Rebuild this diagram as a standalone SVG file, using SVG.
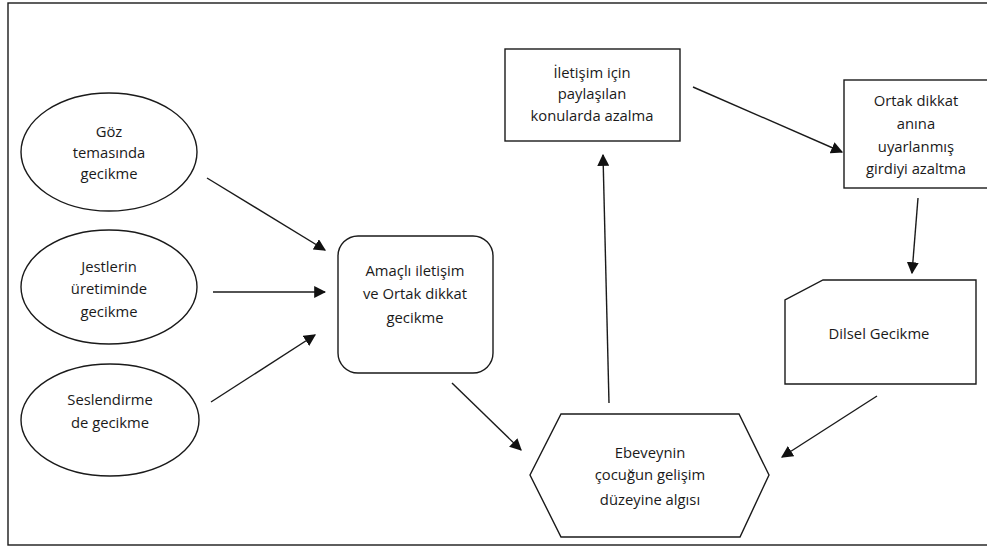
<svg xmlns="http://www.w3.org/2000/svg" width="987" height="547" viewBox="0 0 987 547">
<defs>
<style>
.s{fill:#fff;stroke:#1a1a1a;stroke-width:1.4}
.t{font-family:"Open Sans","Liberation Sans",sans-serif;font-size:14.8px;fill:#1a1a1a;text-anchor:middle;dominant-baseline:central}
.c{stroke:#1a1a1a;stroke-width:1.4;fill:none;marker-end:url(#ah)}
</style>
<marker id="ah" viewBox="0 0 10 10" refX="9" refY="5" markerWidth="12" markerHeight="12" markerUnits="userSpaceOnUse" orient="auto">
<path d="M0,0 L10,5 L0,10 z" fill="#111"/>
</marker>
</defs>
<rect x="0" y="0" width="987" height="547" fill="#fff"/>
<rect x="8" y="3" width="995" height="542" fill="none" stroke="#1a1a1a" stroke-width="1.4"/>

<g id="n-goz">
<ellipse class="s" cx="109" cy="152" rx="88" ry="59"/>
<text class="t" x="109" y="131">Göz</text>
<text class="t" x="109" y="152">temasında</text>
<text class="t" x="109" y="173">gecikme</text>
</g>
<g id="n-jest">
<ellipse class="s" cx="109" cy="287" rx="88" ry="57"/>
<text class="t" x="109" y="266">Jestlerin</text>
<text class="t" x="109" y="288">üretiminde</text>
<text class="t" x="109" y="311">gecikme</text>
</g>
<g id="n-ses">
<ellipse class="s" cx="110" cy="420" rx="89" ry="56"/>
<text class="t" x="110" y="399">Seslendirme</text>
<text class="t" x="110" y="422">de gecikme</text>
</g>
<g id="n-amacli">
<rect class="s" x="338" y="236" width="155" height="137" rx="20"/>
<text class="t" x="415" y="270">Amaçlı iletişim</text>
<text class="t" x="415" y="293">ve Ortak dikkat</text>
<text class="t" x="415" y="317">gecikme</text>
</g>
<g id="n-iletisim">
<rect class="s" x="505" y="49" width="175" height="92"/>
<text class="t" x="592" y="72">İletişim için</text>
<text class="t" x="592" y="93">paylaşılan</text>
<text class="t" x="592" y="115">konularda azalma</text>
</g>
<g id="n-ortak">
<rect class="s" x="844" y="80" width="150" height="108"/>
<text class="t" x="916" y="100">Ortak dikkat</text>
<text class="t" x="916" y="123">anına</text>
<text class="t" x="916" y="146">uyarlanmış</text>
<text class="t" x="916" y="168">girdiyi azaltma</text>
</g>
<g id="n-dilsel">
<path class="s" d="M823,280 L976,280 L976,384 L785,384 L785,300 Z"/>
<text class="t" x="879" y="333">Dilsel Gecikme</text>
</g>
<g id="n-ebeveyn">
<path class="s" d="M561,414 L739,414 L769,475 L740,537 L561,537 L530,475 Z"/>
<text class="t" x="650" y="452">Ebeveynin</text>
<text class="t" x="650" y="474">çocuğun gelişim</text>
<text class="t" x="650" y="499">düzeyine algısı</text>
</g>

<g id="connectors">
<line class="c" x1="207" y1="178" x2="325" y2="250"/>
<line class="c" x1="213" y1="292" x2="325" y2="292"/>
<line class="c" x1="211" y1="402" x2="315" y2="335"/>
<line class="c" x1="452" y1="383" x2="521" y2="450"/>
<line class="c" x1="609" y1="403" x2="603" y2="155"/>
<line class="c" x1="693" y1="87" x2="842" y2="152"/>
<line class="c" x1="918" y1="198" x2="912" y2="273"/>
<line class="c" x1="877" y1="396" x2="782" y2="457"/>
</g>
</svg>
